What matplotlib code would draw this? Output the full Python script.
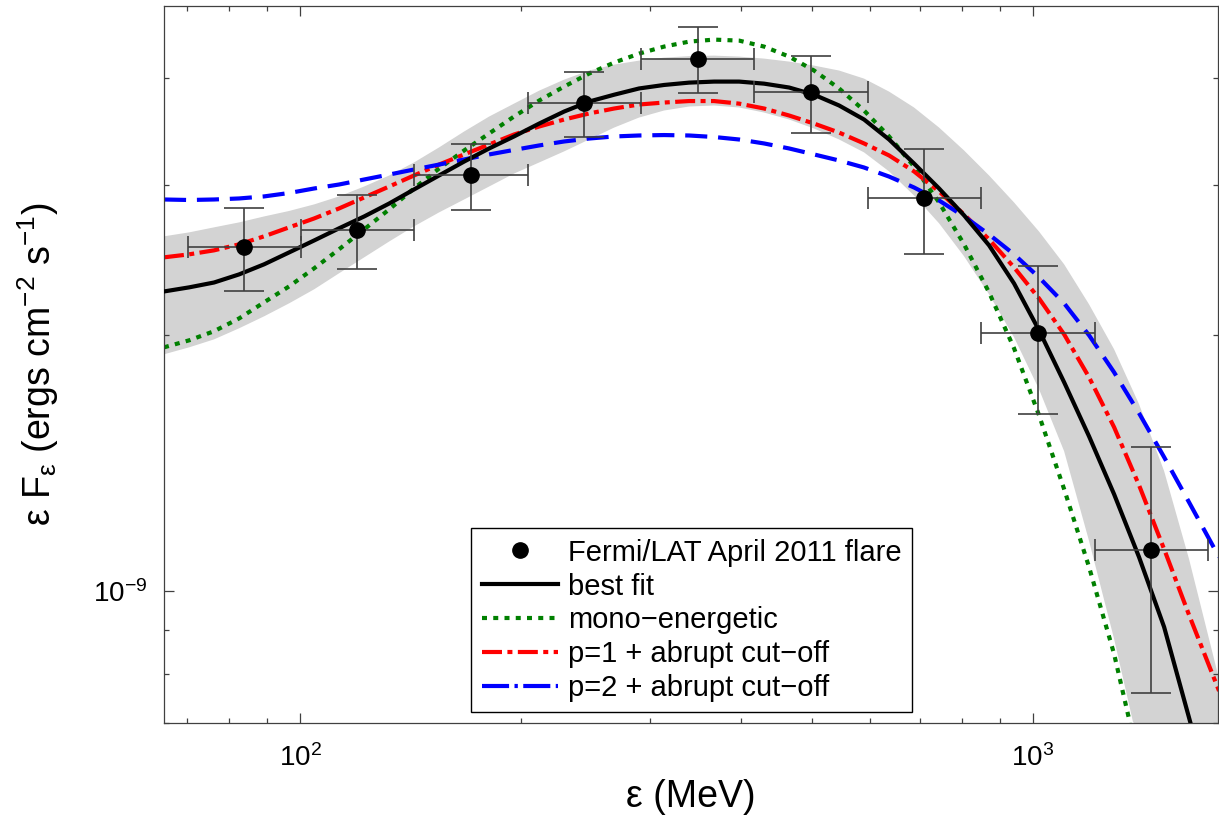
import numpy as np
import matplotlib
matplotlib.use('Agg')
import matplotlib.pyplot as plt
from matplotlib.lines import Line2D
from matplotlib.ticker import NullFormatter

plt.rcParams['font.family'] = ['Liberation Sans', 'DejaVu Sans']

## DATA ----------------

# Fermi/LAT April 2011 flare (energy in MeV, flux in erg cm^-2 s^-1)
E_pts = np.array([83.9, 119.7, 171.1, 244.3, 348.8, 498.0, 710.0, 1015.0, 1450.0])
E_lo = np.array([70.2, 100.2, 143.1, 204.5, 292.0, 416.8, 595.0, 849.0, 1213.0])
E_hi = np.array([100.2, 143.1, 204.5, 292.0, 416.8, 595.0, 849.0, 1213.0, 1731.0])
F_pts = np.array([2.533, 2.652, 3.076, 3.741, 4.216, 3.854, 2.894, 2.011, 1.117]) * 1e-9
F_lo = np.array([2.249, 2.389, 2.797, 3.409, 3.843, 3.450, 2.488, 1.615, 0.759]) * 1e-9
F_hi = np.array([2.814, 2.918, 3.351, 4.067, 4.596, 4.250, 3.306, 2.406, 1.476]) * 1e-9

E_grid = [65.2, 70.56, 76.3, 82.55, 89.3, 96.6, 104.5, 113.0, 122.3, 132.3,
          143.0, 154.7, 167.4, 181.1, 195.8, 211.9, 229.2, 247.9, 268.2, 290.0,
          313.7, 339.4, 367.1, 397.2, 429.6, 464.7, 502.6, 543.8, 588.1, 636.2,
          688.1, 744.4, 805.2, 871.0, 942.1, 1019.0, 1102.6, 1192.4, 1290.0, 1395.2,
          1509.5, 1632.6, 1794.0]

# best fit
E_best = E_grid[:41] + [1640.0]
F_best = np.array([2.247, 2.272, 2.302, 2.353, 2.418, 2.497, 2.579, 2.665, 2.752, 2.850,
                   2.960, 3.074, 3.192, 3.307, 3.416, 3.537, 3.654, 3.754, 3.824, 3.889,
                   3.926, 3.951, 3.962, 3.962, 3.940, 3.899, 3.824, 3.714, 3.576, 3.388,
                   3.175, 2.968, 2.760, 2.545, 2.296, 2.023, 1.758, 1.519, 1.299, 1.096,
                   0.9074, 0.700]) * 1e-9

# mono-energetic
E_mono = E_grid[:39] + [1356.0]
F_mono = np.array([1.932, 1.969, 2.018, 2.089, 2.182, 2.278, 2.392, 2.518, 2.658, 2.805,
                   2.968, 3.132, 3.289, 3.444, 3.605, 3.764, 3.909, 4.049, 4.171, 4.273,
                   4.355, 4.414, 4.438, 4.426, 4.355, 4.239, 4.082, 3.889, 3.664, 3.416,
                   3.149, 2.858, 2.552, 2.241, 1.927, 1.608, 1.317, 1.067, 0.8436,
                   0.700]) * 1e-9

# p=1 + abrupt cut-off
F_p1 = np.array([2.464, 2.484, 2.511, 2.552, 2.608, 2.672, 2.737, 2.812, 2.897, 2.984,
                 3.074, 3.166, 3.254, 3.343, 3.434, 3.509, 3.576, 3.635, 3.684, 3.724,
                 3.744, 3.759, 3.759, 3.733, 3.684, 3.615, 3.537, 3.452, 3.352, 3.245,
                 3.108, 2.944, 2.767, 2.586, 2.398, 2.205, 2.001, 1.782, 1.557, 1.331,
                 1.120, 0.9373, 0.7633]) * 1e-9

# p=2 + abrupt cut-off
F_p2 = np.array([2.881, 2.877, 2.881, 2.889, 2.905, 2.932, 2.968, 3.000, 3.041, 3.082,
                 3.124, 3.166, 3.210, 3.254, 3.294, 3.334, 3.370, 3.397, 3.416, 3.425,
                 3.429, 3.425, 3.411, 3.388, 3.352, 3.307, 3.254, 3.201, 3.141, 3.065,
                 2.976, 2.873, 2.752, 2.621, 2.484, 2.334, 2.176, 1.996, 1.806, 1.617,
                 1.436, 1.271, 1.096]) * 1e-9

# uncertainty band around the best fit
F_band_up = np.array([2.608, 2.636, 2.672, 2.708, 2.752, 2.793, 2.843, 2.905, 2.984, 3.074,
                      3.184, 3.316, 3.462, 3.605, 3.733, 3.866, 3.983, 4.082, 4.148, 4.193,
                      4.227, 4.244, 4.250, 4.239, 4.216, 4.182, 4.137, 4.082, 3.994, 3.856,
                      3.694, 3.499, 3.289, 3.074, 2.858, 2.642, 2.418, 2.170, 1.922, 1.657,
                      1.383, 1.090, 0.7884]) * 1e-9
E_band_lo = E_grid[:39] + [1369.0, 1794.0]
F_band_lo = np.array([1.896, 1.932, 1.974, 2.034, 2.101, 2.176, 2.260, 2.360, 2.464, 2.572,
                      2.679, 2.782, 2.881, 2.984, 3.090, 3.184, 3.281, 3.388, 3.499, 3.595,
                      3.664, 3.704, 3.714, 3.694, 3.644, 3.576, 3.490, 3.388, 3.272, 3.108,
                      2.912, 2.701, 2.471, 2.229, 1.985, 1.725, 1.459, 1.145, 0.8785,
                      0.702, 0.55]) * 1e-9

labels = ['Fermi/LAT April 2011 flare', 'best fit', 'mono\u2212energetic',
          'p=1 + abrupt cut\u2212off', 'p=2 + abrupt cut\u2212off']


## PLOT ----------------

fig = plt.figure(figsize=(12.19, 8.15), dpi=100)
ax = fig.add_axes([164 / 1219, 1 - 723 / 815, (1218 - 164) / 1219, (723 - 6) / 815])
ax.set_xscale('log')
ax.set_yscale('log')

# band
ax.fill(np.concatenate([E_grid, E_band_lo[::-1]]),
        np.concatenate([F_band_up, F_band_lo[::-1]]),
        color='#d3d3d3', lw=0, zorder=0)

# model curves
lw = 3
green_dash = (1.2, 1.5)
red_dash = (4.8, 1.3, 1.2, 1.3)
ax.plot(E_mono, F_mono, color='#008000', lw=lw, dashes=green_dash, zorder=2)
ax.plot(E_grid, F_p1, color='#ff0000', lw=lw, dashes=red_dash, zorder=2)
ax.plot(E_grid, F_p2, color='#0000ff', lw=lw, dashes=(5.3, 2.6), zorder=2)
ax.plot(E_best, F_best, color='black', lw=lw, zorder=3)

# data points
ax.errorbar(E_pts, F_pts, yerr=[F_pts - F_lo, F_hi - F_pts], fmt='none',
            ecolor='0.25', elinewidth=1.2, capsize=14.4, capthick=1.2, zorder=4)
ax.errorbar(E_pts, F_pts, xerr=[E_pts - E_lo, E_hi - E_pts], fmt='none',
            ecolor='0.25', elinewidth=1.2, capsize=8, capthick=1.2, zorder=4)
ax.plot(E_pts, F_pts, 'o', color='black', ms=11, zorder=5)

ax.set_xlim(65.2, 1788)
ax.set_ylim(7.0e-10, 4.86e-9)

ax.xaxis.set_minor_formatter(NullFormatter())
ax.yaxis.set_minor_formatter(NullFormatter())
ax.tick_params(which='both', direction='in', top=True, right=True,
               color='0.25', width=0.9, labelsize=20)
ax.tick_params(which='major', length=7)
ax.tick_params(which='minor', length=3.5, labelbottom=False, labelleft=False)
ax.tick_params(axis='x', which='major', pad=15)
ax.tick_params(axis='y', which='major', pad=12)
for s in ax.spines.values():
    s.set_color('0.25')
    s.set_linewidth(0.9)

ax.set_xlabel('ε (MeV)', fontsize=27)
ax.xaxis.set_label_coords(0.5, -0.078)
ax.set_ylabel(r'ε F$_{\mathregular{ε}}$ (ergs cm$^{\mathregular{-2}}$ s$^{\mathregular{-1}}$)', fontsize=27)
ax.yaxis.set_label_coords(-0.098, 0.5)

# legend with proxy handles
handles = [
    Line2D([], [], ls='none', marker='o', color='black', ms=11),
    Line2D([], [], color='black', lw=lw),
    Line2D([], [], color='#008000', lw=lw, dashes=green_dash),
    Line2D([], [], color='#ff0000', lw=lw, dashes=red_dash),
    Line2D([], [], color='#0000ff', lw=lw, dashes=(6.5, 1.3, 0.8, 1.3)),
]
leg = ax.legend(handles, labels, loc='lower center', bbox_to_anchor=(0.5005, 0.015),
                fontsize=21, frameon=True, fancybox=False, framealpha=1,
                edgecolor='black', handlelength=2.6, handletextpad=0.35,
                labelspacing=0.2, borderpad=0.35, borderaxespad=0)
leg.get_frame().set_linewidth(1.0)

fig.savefig('out.png', dpi=100)
